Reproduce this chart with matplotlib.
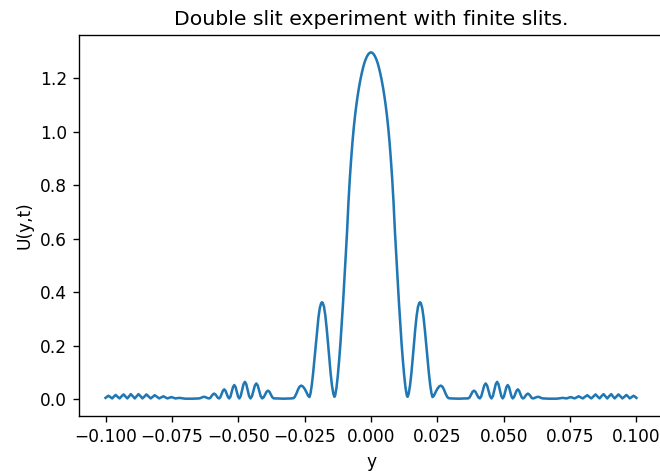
import matplotlib
matplotlib.use('Agg')

import matplotlib.pyplot as plt
import numpy as np

DPI = 122

# right half of the pattern (y >= 0);
# the left half is drawn as its mirror image
y_main = [0.0000, 0.0005, 0.0010, 0.0015, 0.0020, 0.0025, 0.0030, 0.0035,
          0.0040, 0.0045, 0.0050, 0.0055, 0.0060, 0.0065, 0.0070, 0.0075,
          0.0080, 0.0085, 0.0090, 0.0095, 0.0100, 0.0105, 0.0110, 0.0115,
          0.0120, 0.0125, 0.0130, 0.0135]
u_main = [1.298, 1.296, 1.291, 1.283, 1.272, 1.258, 1.240, 1.219,
          1.195, 1.168, 1.137, 1.102, 1.062, 1.015, 0.960, 0.895,
          0.822, 0.735, 0.630, 0.540, 0.450, 0.365, 0.285, 0.210,
          0.145, 0.088, 0.042, 0.013]

# first side lobe and the small one after it
y_side = [0.0138, 0.0142, 0.0147, 0.0152, 0.0157, 0.0162, 0.0167, 0.0172,
          0.0177, 0.0182, 0.0185, 0.0188, 0.0193, 0.0198, 0.0203, 0.0208,
          0.0213, 0.0218, 0.0223, 0.0228, 0.0232,
          0.0237, 0.0243, 0.0250, 0.0257, 0.0263, 0.0269, 0.0275, 0.0281,
          0.0287, 0.0292, 0.0300, 0.0330, 0.0355]
u_side = [0.008, 0.020, 0.050, 0.095, 0.150, 0.210, 0.265, 0.312,
          0.345, 0.360, 0.362, 0.358, 0.340, 0.305, 0.258, 0.205,
          0.150, 0.097, 0.052, 0.020, 0.007,
          0.012, 0.025, 0.038, 0.047, 0.050, 0.046, 0.035, 0.020,
          0.008, 0.003, 0.002, 0.001, 0.002]

# outer group of seven bumps
y_outer = [0.0366, 0.03715, 0.0377, 0.03825, 0.0388, 0.03935, 0.0399, 0.04045,
           0.0410, 0.04155, 0.0421, 0.04265, 0.0432, 0.04375, 0.0443, 0.04485,
           0.0454, 0.04593, 0.04645, 0.04698, 0.0475, 0.04803, 0.04855, 0.04908,
           0.0496, 0.05008, 0.05055, 0.05103, 0.0515, 0.05198, 0.05245, 0.05293,
           0.0534, 0.05388, 0.05435, 0.05483, 0.0553, 0.05578, 0.05625, 0.05673,
           0.0572, 0.05768, 0.05815, 0.05863, 0.0591, 0.05958, 0.06005, 0.06053,
           0.0610, 0.0615, 0.0619, 0.0624, 0.0629, 0.0634, 0.0638, 0.0643,
           0.0648, 0.0670, 0.0700]
u_outer = [0.002, 0.006, 0.016, 0.027, 0.031, 0.027, 0.016, 0.006,
           0.002, 0.010, 0.030, 0.050, 0.058, 0.050, 0.030, 0.010,
           0.002, 0.011, 0.033, 0.055, 0.064, 0.055, 0.033, 0.011,
           0.002, 0.009, 0.027, 0.045, 0.052, 0.045, 0.027, 0.009,
           0.002, 0.007, 0.019, 0.031, 0.036, 0.031, 0.019, 0.007,
           0.002, 0.004, 0.011, 0.017, 0.020, 0.017, 0.011, 0.004,
           0.002, 0.003, 0.005, 0.007, 0.008, 0.007, 0.005, 0.003,
           0.002, 0.001, 0.001]

# far ripples out to the edge
y_far = [0.0707, 0.0715, 0.0722, 0.0729, 0.0737, 0.0745, 0.0752, 0.0759,
         0.0767, 0.0775, 0.0782, 0.0790, 0.0798, 0.0806, 0.0815, 0.0822,
         0.0830, 0.0838, 0.0846, 0.0853, 0.0861, 0.0868, 0.0876, 0.0883,
         0.0890, 0.0897, 0.0905, 0.0911, 0.0918, 0.0925, 0.0932, 0.0940,
         0.0947, 0.0955, 0.0962, 0.0969, 0.0975, 0.0982, 0.0989, 0.0995,
         0.1000]
u_far = [0.002, 0.003, 0.004, 0.003, 0.002, 0.0045, 0.007, 0.0045,
         0.002, 0.006, 0.010, 0.006, 0.002, 0.008, 0.014, 0.008,
         0.002, 0.0095, 0.017, 0.0095, 0.002, 0.010, 0.018, 0.010,
         0.002, 0.010, 0.018, 0.010, 0.002, 0.0095, 0.017, 0.0095,
         0.002, 0.0085, 0.015, 0.0085, 0.002, 0.007, 0.012, 0.008,
         0.004]

y_half = np.array(y_main + y_side + y_outer + y_far)
u_half = np.array(u_main + u_side + u_outer + u_far)
y = np.concatenate([-y_half[::-1], y_half[1:]])
u = np.concatenate([u_half[::-1], u_half[1:]])

fig = plt.figure(figsize=(660 / DPI, 471 / DPI), dpi=DPI)
ax = fig.add_axes([79 / 660, 55 / 471, 584 / 660, 381 / 471])

ax.plot(y, u)
ax.set_title("Double slit experiment with finite slits.")
ax.set_xlabel("y")
ax.set_ylabel("U(y,t)")

fig.savefig("out.png", dpi=DPI)
